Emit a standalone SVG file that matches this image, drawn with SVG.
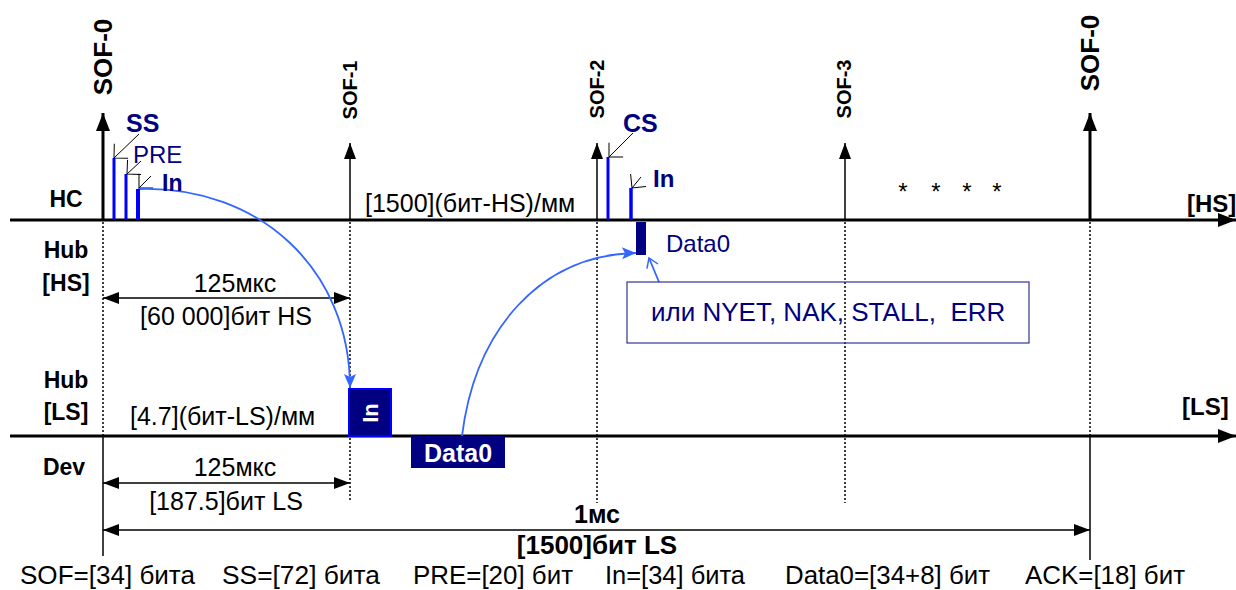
<svg xmlns="http://www.w3.org/2000/svg" width="1236" height="590" viewBox="0 0 1236 590">
<style>
text{font-family:"Liberation Sans",Arial,sans-serif;fill:#000}
.b{font-weight:bold}
.lbl{font-size:23px;font-weight:bold;text-anchor:middle}
.t{font-size:25px}
.c{text-anchor:middle}
.nv{fill:#000080}
.ax{stroke:#000;stroke-width:3;fill:none}
.dot{stroke:#000;stroke-width:1.5;stroke-dasharray:2 2;fill:none}
.sol{stroke:#000;stroke-width:1.5;fill:none}
.bar{stroke:#0000ff;fill:none}
.cur{stroke:#3366ff;stroke-width:1.8;fill:none}
.ldr{stroke:#000;stroke-width:1;fill:none}
</style>
<defs>
<marker id="ah" markerUnits="userSpaceOnUse" markerWidth="18" markerHeight="14" refX="18" refY="7" orient="auto-start-reverse" overflow="visible"><path d="M0,0 L18,7 L0,14 z" fill="#000"/></marker>
<marker id="dh" markerUnits="userSpaceOnUse" markerWidth="16" markerHeight="12" refX="16" refY="6" orient="auto-start-reverse" overflow="visible"><path d="M0,0 L16,6 L0,12 z" fill="#000"/></marker>
<marker id="bh" markerUnits="userSpaceOnUse" markerWidth="14" markerHeight="12" refX="14" refY="6" orient="auto" overflow="visible"><path d="M0,0 L14,6 L0,12 L3,6 z" fill="#3366ff"/></marker>
<marker id="oh" markerUnits="userSpaceOnUse" markerWidth="12" markerHeight="22" refX="10" refY="10" orient="auto" overflow="visible"><path d="M0,0 L10,10 L0,20" fill="none" stroke="#000" stroke-width="1"/></marker>
<marker id="obh" markerUnits="userSpaceOnUse" markerWidth="10" markerHeight="14" refX="9" refY="6" orient="auto" overflow="visible"><path d="M0,0 L9,6 L0,12" fill="none" stroke="#3366ff" stroke-width="1.5"/></marker>
</defs>

<g id="connectors">
<line class="ax" x1="10" y1="220" x2="1236" y2="220" marker-end="url(#ah)"/>
<line class="ax" x1="10" y1="436" x2="1236" y2="436" marker-end="url(#ah)"/>
<line class="ax" x1="103" y1="220" x2="103" y2="113" marker-end="url(#ah)"/>
<line class="ax" x1="1090" y1="220" x2="1090" y2="113" marker-end="url(#ah)"/>
<line class="sol" x1="350" y1="220" x2="350" y2="143" stroke-width="2" marker-end="url(#dh)"/>
<line class="sol" x1="597" y1="220" x2="597" y2="143" stroke-width="2" marker-end="url(#dh)"/>
<line class="sol" x1="845" y1="220" x2="845" y2="143" stroke-width="2" marker-end="url(#dh)"/>
<line class="dot" x1="103" y1="222" x2="103" y2="436"/>
<line class="dot" x1="1090" y1="222" x2="1090" y2="436"/>
<line class="dot" x1="350" y1="222" x2="350" y2="500"/>
<line class="dot" x1="597" y1="222" x2="597" y2="503"/>
<line class="dot" x1="845" y1="222" x2="845" y2="503"/>
<line class="sol" x1="103" y1="436" x2="103" y2="556"/>
<line class="sol" x1="1090" y1="436" x2="1090" y2="560"/>
<line class="sol" x1="103" y1="298" x2="350" y2="298" marker-start="url(#dh)" marker-end="url(#dh)"/>
<line class="sol" x1="103" y1="483" x2="350" y2="483" marker-start="url(#dh)" marker-end="url(#dh)"/>
<line class="sol" x1="103" y1="530" x2="1090" y2="530" marker-start="url(#dh)" marker-end="url(#dh)"/>
<line class="ldr" x1="139" y1="134" x2="114" y2="158" marker-end="url(#oh)"/>
<line class="ldr" x1="141" y1="161" x2="127" y2="174" marker-end="url(#oh)"/>
<line class="ldr" x1="151" y1="176" x2="139" y2="188" marker-end="url(#oh)"/>
<line class="ldr" x1="633" y1="133" x2="609" y2="157" marker-end="url(#oh)"/>
<line class="ldr" x1="641" y1="177" x2="632" y2="188" marker-end="url(#oh)"/>
<path class="cur" d="M138,189 C260,185 350,270 350,388" marker-end="url(#bh)"/>
<path class="cur" d="M462,436 C475,330 540,255 636,253" marker-end="url(#bh)"/>
<line class="cur" x1="659" y1="282" x2="649" y2="258" stroke-width="1.3" marker-end="url(#obh)"/>
</g>

<g id="sof-labels">
<text class="b" font-size="26" text-anchor="middle" transform="translate(112,57) rotate(-90)">SOF-0</text>
<text class="b" font-size="26" text-anchor="middle" transform="translate(1099,53) rotate(-90)">SOF-0</text>
<text class="b" font-size="20" text-anchor="middle" transform="translate(357,90) rotate(-90)">SOF-1</text>
<text class="b" font-size="20" text-anchor="middle" transform="translate(604,89) rotate(-90)">SOF-2</text>
<text class="b" font-size="20" text-anchor="middle" transform="translate(851,89) rotate(-90)">SOF-3</text>
</g>

<g id="row-labels">
<text class="lbl" x="66" y="207">HC</text>
<text class="lbl" x="66" y="258">Hub</text>
<text class="lbl" x="66" y="291">[HS]</text>
<text class="lbl" x="66" y="388">Hub</text>
<text class="lbl" x="66" y="420">[LS]</text>
<text class="lbl" x="64" y="475">Dev</text>
<text class="b" font-size="24" x="1187" y="212">[HS]</text>
<text class="b" font-size="24" x="1182" y="415">[LS]</text>
</g>

<g id="hc-packets">
<line class="bar" x1="114" y1="158" x2="114" y2="220" stroke-width="3"/>
<line class="bar" x1="126" y1="174" x2="126" y2="220" stroke-width="3"/>
<line class="bar" x1="138" y1="189" x2="138" y2="220" stroke-width="4"/>
<text class="b nv" font-size="25" x="126" y="132">SS</text>
<text class="nv" font-size="24" x="133" y="163">PRE</text>
<text class="b nv" font-size="23" x="162" y="191">In</text>
</g>

<g id="cs-packets">
<line class="bar" x1="608" y1="157" x2="608" y2="220" stroke-width="3"/>
<line class="bar" x1="631" y1="188" x2="631" y2="220" stroke-width="3.5"/>
<text class="b nv" font-size="25" x="623" y="132">CS</text>
<text class="b nv" font-size="24" x="653" y="187">In</text>
</g>

<g id="data0-hub">
<rect x="636" y="222" width="10" height="33" fill="#000080"/>
<text class="nv" font-size="24" x="666" y="252">Data0</text>
</g>

<g id="callout">
<rect x="627" y="282" width="402" height="61" fill="none" stroke="#333399" stroke-width="1.2"/>
<text class="nv" font-size="26" x="651" y="321" xml:space="preserve">или NYET, NAK, STALL,  ERR</text>
</g>

<g id="in-ls">
<rect x="349" y="389" width="42" height="47" fill="#000080" stroke="#0000ff" stroke-width="2"/>
<text class="b" font-size="22" text-anchor="middle" style="fill:#fff" transform="translate(378,413) rotate(-90)">In</text>
</g>

<g id="data0-ls">
<rect x="411" y="436" width="94" height="32" fill="#000080"/>
<text class="b c" font-size="25" style="fill:#fff" x="458" y="462">Data0</text>
</g>

<g id="stars">
<text font-size="24" class="c" x="903" y="200">*</text>
<text font-size="24" class="c" x="936" y="200">*</text>
<text font-size="24" class="c" x="967" y="200">*</text>
<text font-size="24" class="c" x="997" y="200">*</text>
</g>

<g id="annotations">
<text class="t" x="365" y="212">[1500](бит-HS)/мм</text>
<text class="t c" x="235" y="292">125мкс</text>
<text class="t c" x="226" y="325">[60 000]бит HS</text>
<text class="t" x="130" y="425">[4.7](бит-LS)/мм</text>
<text class="t c" x="235" y="476">125мкс</text>
<text class="t c" x="226" y="510">[187.5]бит LS</text>
<text class="t b c" x="597" y="523">1мс</text>
<text class="b c" font-size="26" x="597" y="554">[1500]бит LS</text>
</g>

<g id="bottom">
<text class="t" x="20" y="584" textLength="175" lengthAdjust="spacingAndGlyphs">SOF=[34] бита</text>
<text class="t" x="222" y="584" textLength="158" lengthAdjust="spacingAndGlyphs">SS=[72] бита</text>
<text class="t" x="413" y="584" textLength="160" lengthAdjust="spacingAndGlyphs">PRE=[20] бит</text>
<text class="t" x="605" y="584" textLength="140" lengthAdjust="spacingAndGlyphs">In=[34] бита</text>
<text class="t" x="785" y="584" textLength="205" lengthAdjust="spacingAndGlyphs">Data0=[34+8] бит</text>
<text class="t" x="1025" y="584" textLength="160" lengthAdjust="spacingAndGlyphs">ACK=[18] бит</text>
</g>
</svg>
